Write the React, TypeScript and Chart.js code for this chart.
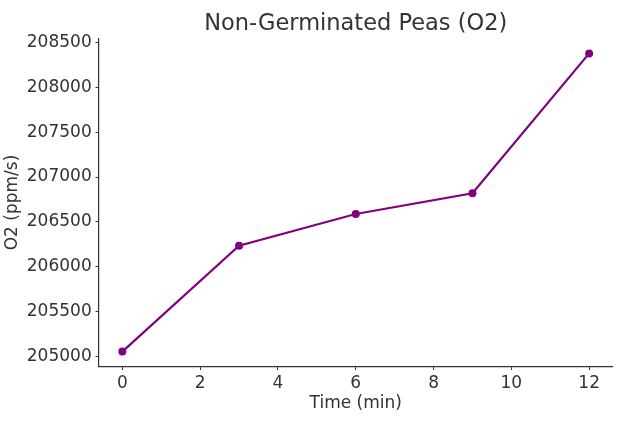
import { useEffect, useRef } from "react";
import { Chart, registerables } from "chart.js";

Chart.register(...registerables);

const times = [0, 3, 6, 9, 12];
const o2Values = [205056, 206236, 206588, 206819, 208377];
const xTicks = [0, 2, 4, 6, 8, 10, 12];
const yTicks = [205000, 205500, 206000, 206500, 207000, 207500, 208000, 208500];
const titleText = "Non-Germinated Peas (O2)";
const xLabel = "Time (min)";
const yLabel = "O2 (ppm/s)";

const FONT = "'DejaVu Sans', sans-serif";
const TEXT = "#333333";
const LINE = "#800080";

function margins(values: number[]) {
  const lo = Math.min(...values);
  const hi = Math.max(...values);
  const m = (hi - lo) * 0.05;
  return { min: lo - m, max: hi + m };
}

export default function App() {
  const ref = useRef<HTMLCanvasElement | null>(null);

  useEffect(() => {
    if (!ref.current) return;
    const xr = margins(times);
    const yr = margins(o2Values);
    const chart = new Chart(ref.current, {
      type: "line",
      data: {
        datasets: [
          {
            data: times.map((t, i) => ({ x: t, y: o2Values[i] })),
            borderColor: LINE,
            backgroundColor: LINE,
            borderWidth: 2.2,
            pointRadius: 4,
            pointBackgroundColor: LINE,
            pointBorderColor: LINE,
            pointBorderWidth: 0,
            tension: 0,
            fill: false,
          },
        ],
      },
      options: {
        animation: false,
        responsive: false,
        devicePixelRatio: 1,
        layout: { padding: { left: 0, right: 13.5, top: 0, bottom: 0 } },
        plugins: {
          legend: { display: false },
          tooltip: { enabled: false },
          title: {
            display: true,
            text: titleText,
            color: TEXT,
            fullSize: false,
            font: { family: FONT, size: 22.5, weight: "normal", lineHeight: 1.2 },
            padding: { top: 10.5, bottom: 1 },
          },
        },
        scales: {
          x: {
            type: "linear",
            min: xr.min,
            max: xr.max,
            afterBuildTicks: (s: any) => {
              s.ticks = xTicks.map((v) => ({ value: v }));
            },
            afterFit: (s: any) => {
              s.height = 435 - 366.5;
            },
            grid: {
              display: true,
              drawOnChartArea: false,
              drawTicks: true,
              tickLength: 3.5,
              tickColor: TEXT,
              tickWidth: 1,
            },
            border: { display: true, color: TEXT, width: 1.2 },
            ticks: {
              color: TEXT,
              font: { family: FONT, size: 17 },
              padding: 3,
              maxRotation: 0,
              autoSkip: false,
              callback: (v: any) => String(v),
            },
            title: {
              display: true,
              text: xLabel,
              color: TEXT,
              font: { family: FONT, size: 17, lineHeight: 1.2 },
              padding: { top: 0, bottom: 21 },
            },
          },
          y: {
            type: "linear",
            min: yr.min,
            max: yr.max,
            afterBuildTicks: (s: any) => {
              s.ticks = yTicks.map((v) => ({ value: v }));
            },
            afterFit: (s: any) => {
              s.width = 99;
            },
            grid: {
              display: true,
              drawOnChartArea: false,
              drawTicks: true,
              tickLength: 3.5,
              tickColor: TEXT,
              tickWidth: 1,
            },
            border: { display: true, color: TEXT, width: 1.2 },
            ticks: {
              color: TEXT,
              font: { family: FONT, size: 17 },
              padding: 3.8,
              autoSkip: false,
              callback: (v: any) => String(v),
            },
            title: {
              display: true,
              text: yLabel,
              color: TEXT,
              font: { family: FONT, size: 17, lineHeight: 1.2 },
              padding: { top: 2, bottom: 0 },
            },
          },
        },
      },
    });
    return () => chart.destroy();
  }, []);

  return (
    <div style={{ position: "absolute", left: 0, top: 0, width: 626, height: 435, background: "#fff" }}>
      <canvas ref={ref} width={626} height={435} style={{ display: "block" }} />
    </div>
  );
}
